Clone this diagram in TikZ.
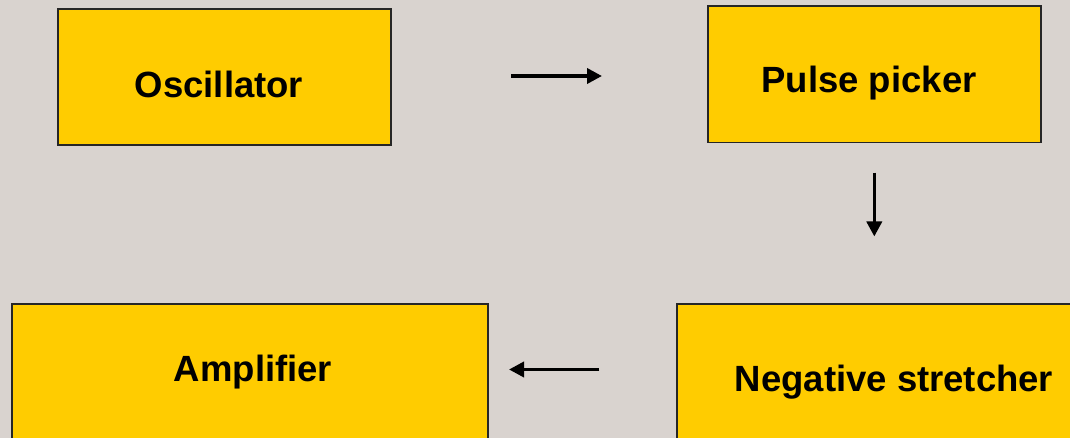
\documentclass[tikz,border=0pt]{standalone}
\usepackage{fontspec}
\setmainfont{Liberation Sans}
\usetikzlibrary{arrows.meta}
\definecolor{bgc}{RGB}{217,211,207}
\definecolor{boxc}{RGB}{255,204,0}
\begin{document}
\begin{tikzpicture}[x=1pt,y=-1pt,
  blockbox/.style={draw=black!85,line width=1.6pt,fill=boxc},
  lbl/.style={anchor=base,inner sep=0pt,font=\fontsize{36.5}{40}\selectfont\bfseries},
  flow/.style={line width=3.6pt,-{Triangle[length=15pt,width=15pt]}}]
\useasboundingbox (0,0) rectangle (1070,438);
\clip (0,0) rectangle (1070,438);
\fill[bgc] (0,0) rectangle (1070,438);
% boxes
\draw[blockbox] (57.7,9.3) rectangle (391,145.3);
\draw[blockbox] (707.7,6) rectangle (1041,142.5);
\draw[blockbox] (12,304) rectangle (487.7,460);
\draw[blockbox] (677,304) rectangle (1090,460);
% labels
\node[lbl] (osc) at (219,97.5) {Oscillator};
\node[lbl] (pp) at (869,93) {Pulse picker};
\node[lbl] (amp) at (253,381) {Amplifier};
\node[lbl] (ns) at (894,391) {Negative stretcher};
% arrow end points
\coordinate (a1s) at (511,76);
\coordinate (a1e) at (602,76);
\coordinate (a2s) at (874.3,172.7);
\coordinate (a2e) at (874.3,236.5);
\coordinate (a3s) at (599.3,369.5);
\coordinate (a3e) at (509,369.5);
\draw[flow] (a1s) -- (a1e);
\draw[flow] (a2s) -- (a2e);
\draw[flow] (a3s) -- (a3e);
\end{tikzpicture}
\end{document}
